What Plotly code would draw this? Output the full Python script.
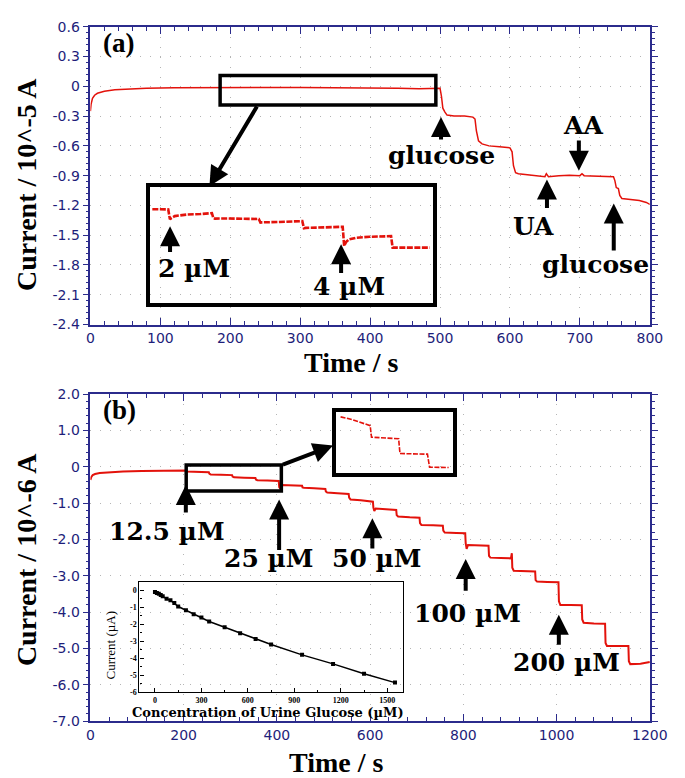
import plotly.graph_objects as go

# ---------------- data: panel (a) ----------------
time_a = [0, 1, 3, 6, 10, 20, 35, 50, 80, 120, 160, 200, 250, 300, 350, 400, 440, 470, 495, 500,
          502, 504, 507, 510, 520, 535, 547, 550, 552, 555, 560, 570, 585, 600, 603, 605, 608, 612,
          625, 640, 650, 652, 655, 670, 685, 700, 703, 706, 720, 740, 748, 750, 752, 755, 757, 760,
          770, 785, 795, 800]
current_a = [-0.25, -0.18, -0.12, -0.09, -0.07, -0.05, -0.035, -0.03, -0.02, -0.015, -0.012, -0.01,
             -0.012, -0.011, -0.013, -0.012, -0.02, -0.025, -0.015, -0.02,
             -0.10, -0.22, -0.26, -0.29, -0.30, -0.30, -0.31, -0.33, -0.45, -0.55, -0.58, -0.60,
             -0.61, -0.62, -0.66, -0.80, -0.87, -0.88, -0.89, -0.90, -0.91, -0.88, -0.91, -0.90,
             -0.895, -0.90, -0.88, -0.90, -0.905, -0.905, -0.91, -0.95, -1.02, -1.03, -1.10, -1.13,
             -1.14, -1.15, -1.17, -1.19]

# zoomed detail of panel (a), 185-494 s
time_a_zoom = [187.6, 196, 205, 206.8, 208.5, 212, 225, 240, 252.6, 254.3, 256, 270, 290, 303.8,
               305.6, 307, 325, 340, 351.3, 353.1, 355, 375, 395.4, 397, 399, 402.3, 410, 425,
               448.2, 449.9, 452, 470, 490.4]
current_a_zoom = [-0.0100, -0.0098, -0.0102, -0.0205, -0.0190, -0.0171, -0.0155, -0.0150, -0.0140,
                  -0.0195, -0.0197, -0.0196, -0.0199, -0.0201, -0.0238, -0.0236, -0.0232, -0.0226,
                  -0.0223, -0.0296, -0.0293, -0.0288, -0.0282, -0.0480, -0.0440, -0.0412, -0.0395,
                  -0.0385, -0.0379, -0.0497, -0.0497, -0.0496, -0.0497]
zoom_a_time = [185.5, 494]
zoom_a_current = [-0.188, 0.108]
zoom_a_inset_current = [-0.1067, 0.0133]

# ---------------- data: panel (b) ----------------
time_b = [0, 2, 5, 10, 20, 40, 70, 110, 150, 190, 204, 206, 215, 235, 254, 255, 258, 280, 304, 305,
          308, 330, 354, 355, 358, 380, 404, 405, 407, 410, 430, 454, 455, 458, 480, 504, 505, 508,
          530, 554, 555, 558, 580, 606, 607, 609, 612, 635, 656, 657, 660, 685, 706, 707, 710, 735,
          756, 757, 760, 785, 804, 805, 807, 810, 830, 854, 855, 858, 880, 902, 904, 905, 908, 930,
          954, 955, 958, 980, 1004, 1005, 1008, 1030, 1054, 1055, 1058, 1080, 1104, 1105, 1108,
          1130, 1154, 1155, 1158, 1180, 1200]
current_b = [-0.36, -0.28, -0.23, -0.20, -0.17, -0.15, -0.13, -0.12, -0.11, -0.10, -0.10, -0.13,
             -0.13, -0.14, -0.15, -0.19, -0.21, -0.22, -0.23, -0.27, -0.29, -0.30, -0.31, -0.35,
             -0.37, -0.38, -0.39, -0.56, -0.60, -0.50, -0.51, -0.52, -0.57, -0.58, -0.59, -0.61,
             -0.68, -0.71, -0.73, -0.75, -0.85, -0.90, -0.92, -0.96, -1.12, -1.22, -1.15, -1.17,
             -1.19, -1.33, -1.37, -1.39, -1.40, -1.55, -1.60, -1.61, -1.62, -1.76, -1.81, -1.82,
             -1.83, -2.10, -2.26, -2.15, -2.16, -2.17, -2.45, -2.50, -2.51, -2.52, -2.38, -2.78,
             -2.86, -2.87, -2.88, -3.12, -3.16, -3.17, -3.18, -3.70, -3.80, -3.80, -3.81, -4.20,
             -4.29, -4.31, -4.32, -4.85, -4.93, -4.93, -4.93, -5.35, -5.43, -5.42, -5.37]

time_b_zoom = [213.1, 218, 224.1, 235, 250, 264.9, 267.2, 275, 290, 305, 314.7, 317, 330, 345,
               365.1, 368.8, 380, 402.2]
current_b_zoom = [-0.0145, -0.02, -0.0305, -0.05, -0.085, -0.117, -0.251, -0.255, -0.262, -0.267,
                  -0.270, -0.442, -0.445, -0.447, -0.449, -0.601, -0.603, -0.605]
zoom_b_time = [205.5, 409.6]
zoom_b_current = [-0.67, 0.046]

# calibration inset
conc = [0, 12.5, 25, 37.5, 50, 75, 100, 125, 150, 200, 250, 300, 350, 450, 550, 650, 750,
        950, 1150, 1350, 1550]
conc_current = [-0.10, -0.15, -0.20, -0.27, -0.35, -0.50, -0.58, -0.75, -0.95, -1.17, -1.40,
                -1.60, -1.83, -2.17, -2.52, -2.86, -3.18, -3.79, -4.32, -4.90, -5.42]

# tick labels
xa_ticks = [0, 100, 200, 300, 400, 500, 600, 700, 800]
xa_labels = ["0", "100", "200", "300", "400", "500", "600", "700", "800"]
ya_ticks = [0.6, 0.3, 0, -0.3, -0.6, -0.9, -1.2, -1.5, -1.8, -2.1, -2.4]
ya_labels = ["0.6", "0.3", "0", "-0.3", "-0.6", "-0.9", "-1.2", "-1.5", "-1.8", "-2.1", "-2.4"]
xb_ticks = [0, 200, 400, 600, 800, 1000, 1200]
xb_labels = ["0", "200", "400", "600", "800", "1000", "1200"]
yb_ticks = [2, 1, 0, -1, -2, -3, -4, -5, -6, -7]
yb_labels = ["2.0", "1.0", "0", "-1.0", "-2.0", "-3.0", "-4.0", "-5.0", "-6.0", "-7.0"]
xc_ticks = [0, 300, 600, 900, 1200, 1500]
xc_labels = ["0", "300", "600", "900", "1200", "1500"]
yc_ticks = [0, -1, -2, -3, -4, -5, -6]
yc_labels = ["0", "-1", "-2", "-3", "-4", "-5", "-6"]

# ---------------- layout helpers ----------------
W, H = 685, 778
def fx(p):
    return p / W
def fy(p):
    return 1 - p / H

NAVY = "#2b2b8c"
NAVY_T = "#1e1e7a"
RED = "#e3120b"
TICKFONT = dict(family="DejaVu Sans", size=14, color=NAVY_T)
SERIF_B = "Liberation Serif"
ANN_FONT = dict(family="DejaVu Serif", size=25, color="black", weight="bold")

fig = go.Figure()
fig.add_trace(go.Scatter(x=time_a, y=current_a, mode="lines", line=dict(color=RED, width=1.5),
                         xaxis="x", yaxis="y", hoverinfo="skip"))
fig.add_trace(go.Scatter(x=time_a_zoom, y=current_a_zoom, mode="lines",
                         line=dict(color=RED, width=2.6, dash="6px,1.5px"),
                         xaxis="x3", yaxis="y3", hoverinfo="skip"))
fig.add_trace(go.Scatter(x=time_b, y=current_b, mode="lines", line=dict(color=RED, width=2),
                         xaxis="x2", yaxis="y2", hoverinfo="skip"))
fig.add_trace(go.Scatter(x=time_b_zoom, y=current_b_zoom, mode="lines",
                         line=dict(color=RED, width=1.6, dash="5px,1.5px"),
                         xaxis="x4", yaxis="y4", hoverinfo="skip"))
fig.add_trace(go.Scatter(x=conc, y=conc_current, mode="lines+markers",
                         line=dict(color="black", width=1.5),
                         marker=dict(symbol="square", size=4, color="black"),
                         xaxis="x5", yaxis="y5", hoverinfo="skip"))

def main_x(dom_anchor, rng, ticks, labels, minor):
    return dict(anchor=dom_anchor, range=rng, tickmode="array", tickvals=ticks, ticktext=labels,
                showline=True, linecolor=NAVY, linewidth=1.5, mirror="allticks",
                ticks="inside", ticklen=7, tickcolor=NAVY, tickwidth=1.2, tickfont=TICKFONT,
                showgrid=True, gridcolor="#b5b5b5", griddash="1px,9px", gridwidth=1.2,
                zeroline=False,
                minor=dict(tick0=0, dtick=minor, ticklen=4, tickcolor=NAVY, ticks="inside",
                           showgrid=False))

def main_y(dom_anchor, rng, ticks, labels, minor):
    return dict(anchor=dom_anchor, range=rng, tickmode="array", tickvals=ticks, ticktext=labels,
                showline=True, linecolor=NAVY, linewidth=1.5, mirror="allticks",
                ticks="outside", ticklen=6, tickcolor=NAVY, tickwidth=1.2, tickfont=TICKFONT,
                showgrid=True, gridcolor="#b5b5b5", griddash="1px,9px", gridwidth=1.2,
                zeroline=False,
                minor=dict(tick0=0, dtick=minor, ticklen=3, tickcolor=NAVY, ticks="outside",
                           showgrid=False))

box_axis = dict(showline=True, linecolor="black", linewidth=3.5, mirror=True, ticks="",
                showticklabels=False, showgrid=False, zeroline=False)

xa = main_x("y", [0, 800], xa_ticks, xa_labels, 20)
xa["domain"] = [fx(81), fx(659)]
ya = main_y("x", [-2.4, 0.6], ya_ticks, ya_labels, 0.06)
ya["domain"] = [fy(315), fy(11)]
xb = main_x("y2", [0, 1200], xb_ticks, xb_labels, 40)
xb["domain"] = [fx(81), fx(659)]
yb = main_y("x2", [-7, 2], yb_ticks, yb_labels, 0.2)
yb["domain"] = [fy(720), fy(386)]

inset_font = dict(family=SERIF_B, size=8, color="black", weight="bold")
xc = dict(domain=[fx(131.7), fx(403.7)], anchor="y5", range=[-100, 1600], tickmode="array",
          tickvals=xc_ticks, ticktext=xc_labels, showline=True, linecolor="black", linewidth=1.2,
          mirror=True, ticks="inside", ticklen=4, tickcolor="black", tickfont=inset_font,
          ticklabelstandoff=0, showgrid=False, zeroline=False,
          minor=dict(tick0=0, dtick=150, ticklen=2, ticks="inside", tickcolor="black"))
yc = dict(domain=[fy(690.7), fy(577.7)], anchor="x5", range=[-6, 0.5], tickmode="array",
          tickvals=yc_ticks, ticktext=yc_labels, showline=True, linecolor="black", linewidth=1.2,
          mirror=True, ticks="inside", ticklen=4, tickcolor="black", tickfont=inset_font,
          showgrid=False, zeroline=False,
          minor=dict(tick0=0, dtick=0.5, ticklen=2, ticks="inside", tickcolor="black"))

fig.update_layout(
    width=W, height=H, margin=dict(l=0, r=0, t=0, b=0),
    paper_bgcolor="white", plot_bgcolor="rgba(0,0,0,0)", showlegend=False,
    xaxis=xa, yaxis=ya, xaxis2=xb, yaxis2=yb,
    xaxis3=dict(box_axis, domain=[fx(143), fx(435)], anchor="y3", range=zoom_a_time),
    yaxis3=dict(box_axis, domain=[fy(292.7), fy(174.3)], anchor="x3", range=zoom_a_inset_current),
    xaxis4=dict(box_axis, domain=[fx(335), fx(455.5)], anchor="y4", range=zoom_b_time),
    yaxis4=dict(box_axis, domain=[fy(466.7), fy(404)], anchor="x4", range=zoom_b_current),
    xaxis5=xc, yaxis5=yc,
)

# white background behind calibration inset
fig.add_shape(type="rect", xref="paper", yref="paper", x0=fx(131.7), x1=fx(403.7),
              y0=fy(690.7), y1=fy(577.7), fillcolor="white", line_width=0, layer="between")

# selection boxes
fig.add_shape(type="rect", xref="x", yref="y", x0=zoom_a_time[0], x1=zoom_a_time[1],
              y0=zoom_a_current[0], y1=zoom_a_current[1], line=dict(color="black", width=3.5))
fig.add_shape(type="rect", xref="x2", yref="y2", x0=zoom_b_time[0], x1=zoom_b_time[1],
              y0=zoom_b_current[0], y1=zoom_b_current[1], line=dict(color="black", width=3.5))

anns = []
def arrow(xr, yr, x, y, ax, ay, w=4):
    anns.append(dict(xref=xr, yref=yr, axref=xr, ayref=yr, x=x, y=y, ax=ax, ay=ay, text="",
                     showarrow=True, arrowhead=2, arrowsize=1.0, arrowwidth=w,
                     arrowcolor="black"))

def label(xr, yr, x, y, text, font=None):
    anns.append(dict(xref=xr, yref=yr, x=x, y=y, text=text, showarrow=False,
                     xanchor="center", yanchor="middle", font=font or ANN_FONT))

# panel (a)
arrow("x", "y", 501.4, -0.31, 501.4, -0.55)
label("x", "y", 501.7, -0.70, "glucose")
arrow("x", "y", 698.5, -0.85, 698.5, -0.53)
label("x", "y", 704.5, -0.395, "AA")
arrow("x", "y", 652.9, -0.94, 652.9, -1.24)
label("x", "y", 633.2, -1.41, "UA")
arrow("x", "y", 748.4, -1.18, 748.4, -1.67)
label("x", "y", 722.5, -1.80, "glucose")
arrow("x", "y", 113.9, -1.41, 113.9, -1.685)
label("x", "y", 148.1, -1.836, "2 µM")
arrow("x", "y", 358.5, -1.59, 358.5, -1.895)
label("x", "y", 370.5, -2.014, "4 µM")
arrow("x", "y", 170.2, -1.007, 239.4, -0.188)

# panel (b)
arrow("x2", "y2", 204.7, -0.5, 204.7, -1.30)
label("x2", "y2", 164, -1.78, "12.5 µM")
arrow("x2", "y2", 404.8, -0.9, 404.8, -2.33)
label("x2", "y2", 382, -2.53, "25 µM")
arrow("x2", "y2", 604.8, -1.42, 604.8, -2.29)
label("x2", "y2", 613.9, -2.53, "50 µM")
arrow("x2", "y2", 805, -2.54, 805, -3.45)
label("x2", "y2", 809.7, -4.04, "100 µM")
arrow("x2", "y2", 1004.8, -4.07, 1004.8, -4.935)
label("x2", "y2", 1021.5, -5.385, "200 µM")
arrow("x2", "y2", 520.5, 0.584, 409.6, 0.046)

# panel labels and axis titles
title_font = dict(family=SERIF_B, size=28, color="black", weight="bold")
panel_font = dict(family=SERIF_B, size=27, color="black", weight="bold")
label("paper", "paper", fx(110.5), fy(28), "(a)", panel_font)
label("paper", "paper", fx(111.5), fy(402.5), "(b)", panel_font)
label("paper", "paper", fx(350), fy(354), "Time / s", title_font)
label("paper", "paper", fx(335), fy(762), "Time / s", title_font)
anns.append(dict(xref="paper", yref="paper", x=fx(15), y=fy(172), text="Current / 10^-5 A",
                 textangle=-90, showarrow=False, xanchor="center", yanchor="middle", font=title_font))
anns.append(dict(xref="paper", yref="paper", x=fx(15), y=fy(555), text="Current / 10^-6 A",
                 textangle=-90, showarrow=False, xanchor="center", yanchor="middle", font=title_font))
# calibration inset titles
label("paper", "paper", fx(264), fy(711), "Concentration of Urine Glucose (µM)",
      dict(family="DejaVu Serif", size=13, color="black", weight="bold"))
anns.append(dict(xref="paper", yref="paper", x=fx(102), y=fy(642), text="Current (µA)",
                 textangle=-90, showarrow=False, xanchor="center", yanchor="middle",
                 font=dict(family=SERIF_B, size=13, color="black")))

fig.update_layout(annotations=anns)
fig.write_html("out.html")
